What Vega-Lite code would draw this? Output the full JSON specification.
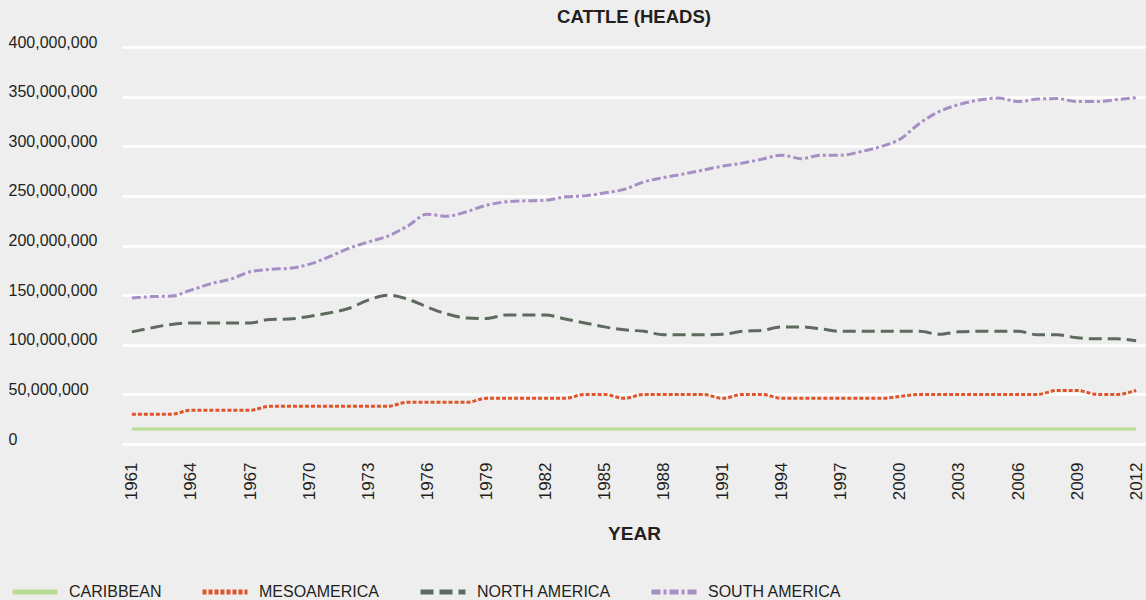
{
  "$schema": "https://vega.github.io/schema/vega-lite/v6.json",
  "width": 1024,
  "height": 397,
  "autosize": {"type": "none"},
  "padding": {"left": 122, "top": 47, "right": 0, "bottom": 156},
  "background": "#eeeeee",
  "config": {
    "view": {"stroke": null},
    "font": "Liberation Sans"
  },
  "title": {
    "text": "CATTLE (HEADS)",
    "anchor": "middle",
    "frame": "group",
    "fontSize": 18.5,
    "fontWeight": "bold",
    "color": "#231f20",
    "offset": 8
  },
  "data": {
    "values": [
      {"year": 1961, "CARIBBEAN": 15000000, "MESOAMERICA": 30000000, "NORTH AMERICA": 113000000, "SOUTH AMERICA": 147000000},
      {"year": 1962, "CARIBBEAN": 15000000, "MESOAMERICA": 30000000, "NORTH AMERICA": 117000000, "SOUTH AMERICA": 148500000},
      {"year": 1963, "CARIBBEAN": 15000000, "MESOAMERICA": 30000000, "NORTH AMERICA": 120500000, "SOUTH AMERICA": 149000000},
      {"year": 1964, "CARIBBEAN": 15000000, "MESOAMERICA": 34000000, "NORTH AMERICA": 122000000, "SOUTH AMERICA": 155000000},
      {"year": 1965, "CARIBBEAN": 15000000, "MESOAMERICA": 34000000, "NORTH AMERICA": 122000000, "SOUTH AMERICA": 161500000},
      {"year": 1966, "CARIBBEAN": 15000000, "MESOAMERICA": 34000000, "NORTH AMERICA": 122000000, "SOUTH AMERICA": 166000000},
      {"year": 1967, "CARIBBEAN": 15000000, "MESOAMERICA": 34000000, "NORTH AMERICA": 122000000, "SOUTH AMERICA": 173500000},
      {"year": 1968, "CARIBBEAN": 15000000, "MESOAMERICA": 38000000, "NORTH AMERICA": 125500000, "SOUTH AMERICA": 176000000},
      {"year": 1969, "CARIBBEAN": 15000000, "MESOAMERICA": 38000000, "NORTH AMERICA": 126000000, "SOUTH AMERICA": 177000000},
      {"year": 1970, "CARIBBEAN": 15000000, "MESOAMERICA": 38000000, "NORTH AMERICA": 128500000, "SOUTH AMERICA": 181000000},
      {"year": 1971, "CARIBBEAN": 15000000, "MESOAMERICA": 38000000, "NORTH AMERICA": 132000000, "SOUTH AMERICA": 188500000},
      {"year": 1972, "CARIBBEAN": 15000000, "MESOAMERICA": 38000000, "NORTH AMERICA": 136500000, "SOUTH AMERICA": 197000000},
      {"year": 1973, "CARIBBEAN": 15000000, "MESOAMERICA": 38000000, "NORTH AMERICA": 145000000, "SOUTH AMERICA": 203500000},
      {"year": 1974, "CARIBBEAN": 15000000, "MESOAMERICA": 38000000, "NORTH AMERICA": 150000000, "SOUTH AMERICA": 209500000},
      {"year": 1975, "CARIBBEAN": 15000000, "MESOAMERICA": 42000000, "NORTH AMERICA": 146000000, "SOUTH AMERICA": 219500000},
      {"year": 1976, "CARIBBEAN": 15000000, "MESOAMERICA": 42000000, "NORTH AMERICA": 138000000, "SOUTH AMERICA": 231500000},
      {"year": 1977, "CARIBBEAN": 15000000, "MESOAMERICA": 42000000, "NORTH AMERICA": 131000000, "SOUTH AMERICA": 229500000},
      {"year": 1978, "CARIBBEAN": 15000000, "MESOAMERICA": 42000000, "NORTH AMERICA": 127000000, "SOUTH AMERICA": 234000000},
      {"year": 1979, "CARIBBEAN": 15000000, "MESOAMERICA": 46000000, "NORTH AMERICA": 126500000, "SOUTH AMERICA": 240500000},
      {"year": 1980, "CARIBBEAN": 15000000, "MESOAMERICA": 46000000, "NORTH AMERICA": 130000000, "SOUTH AMERICA": 244000000},
      {"year": 1981, "CARIBBEAN": 15000000, "MESOAMERICA": 46000000, "NORTH AMERICA": 130000000, "SOUTH AMERICA": 245000000},
      {"year": 1982, "CARIBBEAN": 15000000, "MESOAMERICA": 46000000, "NORTH AMERICA": 130000000, "SOUTH AMERICA": 245500000},
      {"year": 1983, "CARIBBEAN": 15000000, "MESOAMERICA": 46000000, "NORTH AMERICA": 126000000, "SOUTH AMERICA": 249000000},
      {"year": 1984, "CARIBBEAN": 15000000, "MESOAMERICA": 50000000, "NORTH AMERICA": 122000000, "SOUTH AMERICA": 250000000},
      {"year": 1985, "CARIBBEAN": 15000000, "MESOAMERICA": 50000000, "NORTH AMERICA": 118000000, "SOUTH AMERICA": 253000000},
      {"year": 1986, "CARIBBEAN": 15000000, "MESOAMERICA": 46000000, "NORTH AMERICA": 115000000, "SOUTH AMERICA": 256500000},
      {"year": 1987, "CARIBBEAN": 15000000, "MESOAMERICA": 50000000, "NORTH AMERICA": 113500000, "SOUTH AMERICA": 264000000},
      {"year": 1988, "CARIBBEAN": 15000000, "MESOAMERICA": 50000000, "NORTH AMERICA": 110000000, "SOUTH AMERICA": 268500000},
      {"year": 1989, "CARIBBEAN": 15000000, "MESOAMERICA": 50000000, "NORTH AMERICA": 110000000, "SOUTH AMERICA": 272000000},
      {"year": 1990, "CARIBBEAN": 15000000, "MESOAMERICA": 50000000, "NORTH AMERICA": 110000000, "SOUTH AMERICA": 276000000},
      {"year": 1991, "CARIBBEAN": 15000000, "MESOAMERICA": 46000000, "NORTH AMERICA": 110500000, "SOUTH AMERICA": 280000000},
      {"year": 1992, "CARIBBEAN": 15000000, "MESOAMERICA": 50000000, "NORTH AMERICA": 113500000, "SOUTH AMERICA": 283000000},
      {"year": 1993, "CARIBBEAN": 15000000, "MESOAMERICA": 50000000, "NORTH AMERICA": 114500000, "SOUTH AMERICA": 287000000},
      {"year": 1994, "CARIBBEAN": 15000000, "MESOAMERICA": 46000000, "NORTH AMERICA": 118000000, "SOUTH AMERICA": 291000000},
      {"year": 1995, "CARIBBEAN": 15000000, "MESOAMERICA": 46000000, "NORTH AMERICA": 118000000, "SOUTH AMERICA": 287500000},
      {"year": 1996, "CARIBBEAN": 15000000, "MESOAMERICA": 46000000, "NORTH AMERICA": 116000000, "SOUTH AMERICA": 291000000},
      {"year": 1997, "CARIBBEAN": 15000000, "MESOAMERICA": 46000000, "NORTH AMERICA": 113500000, "SOUTH AMERICA": 291000000},
      {"year": 1998, "CARIBBEAN": 15000000, "MESOAMERICA": 46000000, "NORTH AMERICA": 113500000, "SOUTH AMERICA": 294500000},
      {"year": 1999, "CARIBBEAN": 15000000, "MESOAMERICA": 46000000, "NORTH AMERICA": 113500000, "SOUTH AMERICA": 299500000},
      {"year": 2000, "CARIBBEAN": 15000000, "MESOAMERICA": 48000000, "NORTH AMERICA": 113500000, "SOUTH AMERICA": 307000000},
      {"year": 2001, "CARIBBEAN": 15000000, "MESOAMERICA": 50000000, "NORTH AMERICA": 113500000, "SOUTH AMERICA": 323000000},
      {"year": 2002, "CARIBBEAN": 15000000, "MESOAMERICA": 50000000, "NORTH AMERICA": 110500000, "SOUTH AMERICA": 335000000},
      {"year": 2003, "CARIBBEAN": 15000000, "MESOAMERICA": 50000000, "NORTH AMERICA": 113000000, "SOUTH AMERICA": 342000000},
      {"year": 2004, "CARIBBEAN": 15000000, "MESOAMERICA": 50000000, "NORTH AMERICA": 113500000, "SOUTH AMERICA": 346500000},
      {"year": 2005, "CARIBBEAN": 15000000, "MESOAMERICA": 50000000, "NORTH AMERICA": 113500000, "SOUTH AMERICA": 348500000},
      {"year": 2006, "CARIBBEAN": 15000000, "MESOAMERICA": 50000000, "NORTH AMERICA": 113500000, "SOUTH AMERICA": 345000000},
      {"year": 2007, "CARIBBEAN": 15000000, "MESOAMERICA": 50000000, "NORTH AMERICA": 110000000, "SOUTH AMERICA": 347500000},
      {"year": 2008, "CARIBBEAN": 15000000, "MESOAMERICA": 54000000, "NORTH AMERICA": 110000000, "SOUTH AMERICA": 348000000},
      {"year": 2009, "CARIBBEAN": 15000000, "MESOAMERICA": 54000000, "NORTH AMERICA": 107000000, "SOUTH AMERICA": 345000000},
      {"year": 2010, "CARIBBEAN": 15000000, "MESOAMERICA": 50000000, "NORTH AMERICA": 106000000, "SOUTH AMERICA": 345000000},
      {"year": 2011, "CARIBBEAN": 15000000, "MESOAMERICA": 50000000, "NORTH AMERICA": 106000000, "SOUTH AMERICA": 347000000},
      {"year": 2012, "CARIBBEAN": 15000000, "MESOAMERICA": 54000000, "NORTH AMERICA": 104000000, "SOUTH AMERICA": 349000000}
    ]
  },
  "transform": [
    {"fold": ["CARIBBEAN", "MESOAMERICA", "NORTH AMERICA", "SOUTH AMERICA"], "as": ["region", "heads"]}
  ],
  "mark": {"type": "line", "strokeWidth": 3, "interpolate": "monotone"},
  "encoding": {
    "x": {
      "field": "year",
      "type": "quantitative",
      "scale": {"domain": [1960.5, 2012.5], "nice": false, "zero": false},
      "axis": {
        "values": [1961, 1964, 1967, 1970, 1973, 1976, 1979, 1982, 1985, 1988, 1991, 1994, 1997, 2000, 2003, 2006, 2009, 2012],
        "format": "d",
        "labelAngle": -90,
        "labelFontSize": 17,
        "labelColor": "#231f20",
        "labelPadding": 18,
        "ticks": false,
        "domain": false,
        "grid": false,
        "title": "YEAR",
        "titleFontSize": 19,
        "titleFontWeight": "bold",
        "titleColor": "#231f20",
        "titleBaseline": "alphabetic",
        "titleY": 95
      }
    },
    "y": {
      "field": "heads",
      "type": "quantitative",
      "scale": {"domain": [0, 400000000], "nice": false},
      "axis": {
        "values": [0, 50000000, 100000000, 150000000, 200000000, 250000000, 300000000, 350000000, 400000000],
        "format": ",d",
        "labelAlign": "left",
        "labelBaseline": "alphabetic",
        "labelPadding": 114,
        "labelFontSize": 16,
        "labelColor": "#231f20",
        "ticks": false,
        "domain": false,
        "grid": true,
        "gridColor": "#ffffff",
        "gridWidth": 2.5,
        "title": null
      }
    },
    "color": {
      "field": "region",
      "type": "nominal",
      "scale": {
        "domain": ["CARIBBEAN", "MESOAMERICA", "NORTH AMERICA", "SOUTH AMERICA"],
        "range": ["#b7dc92", "#e0542a", "#5f6a5e", "#a68fc5"]
      },
      "legend": {
        "orient": "none",
        "legendX": -112,
        "legendY": 520,
        "direction": "horizontal",
        "title": null,
        "padding": 0,
        "symbolType": "stroke",
        "symbolSize": 2025,
        "symbolStrokeWidth": 5,
        "labelFontSize": 16,
        "labelColor": "#231f20",
        "labelOffset": 9,
        "columnPadding": 30
      }
    },
    "strokeDash": {
      "field": "region",
      "type": "nominal",
      "scale": {
        "domain": ["CARIBBEAN", "MESOAMERICA", "NORTH AMERICA", "SOUTH AMERICA"],
        "range": [[1, 0], [4, 2], [13, 6], [9, 3, 3, 3]]
      },
      "legend": {
        "orient": "none",
        "legendX": -112,
        "legendY": 520,
        "direction": "horizontal",
        "title": null,
        "padding": 0,
        "symbolType": "stroke",
        "symbolSize": 2025,
        "symbolStrokeWidth": 5,
        "labelFontSize": 16,
        "labelColor": "#231f20",
        "labelOffset": 9,
        "columnPadding": 30
      }
    }
  }
}
